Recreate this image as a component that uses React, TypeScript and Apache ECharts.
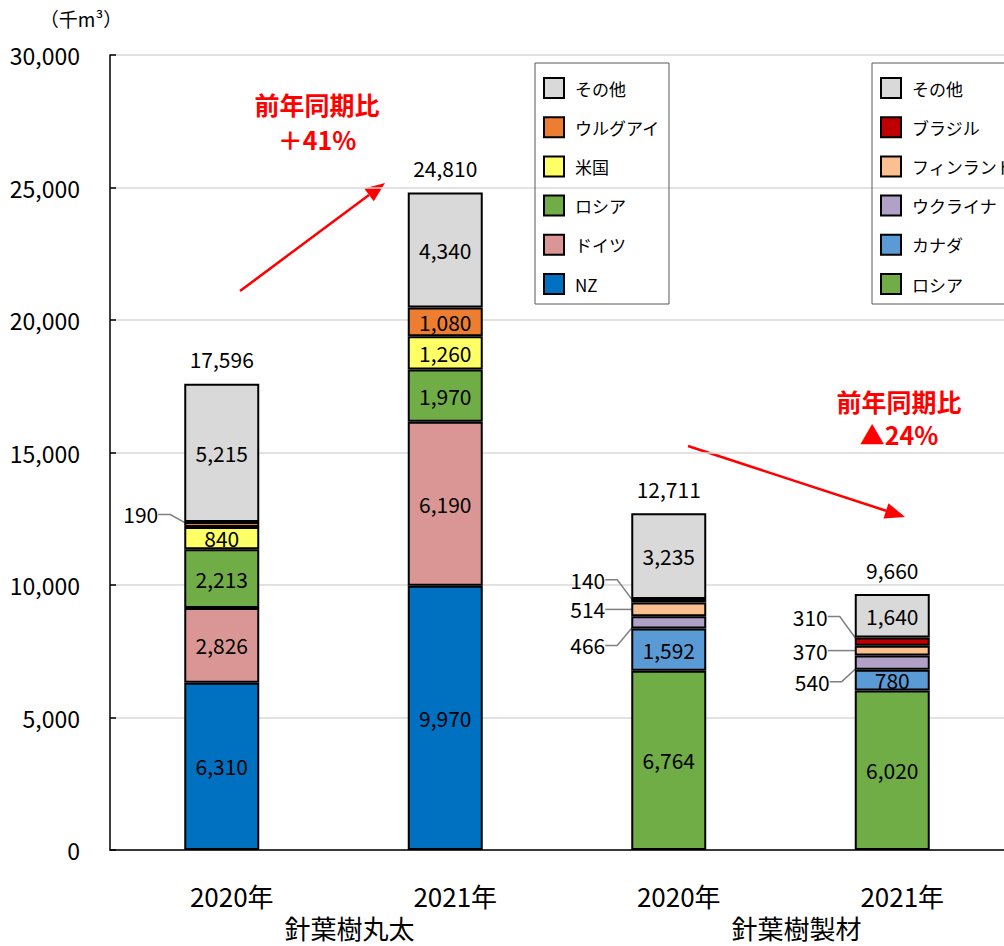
import React, { useEffect, useRef } from "react";
import * as echarts from "echarts";

const FONT = "'Noto Sans CJK JP', 'Noto Sans', sans-serif";

// Categories / labels
const categories = ["2020年", "2021年", "2020年", "2021年"];
const groupLabels = ["針葉樹丸太", "針葉樹製材"];
const legendLogs = ["その他", "ウルグアイ", "米国", "ロシア", "ドイツ", "NZ"];
const legendLumber = ["その他", "ブラジル", "フィンランド", "ウクライナ", "カナダ", "ロシア"];

// Series values (千m3)
const nz = [6310, 9970, null, null];
const germany = [2826, 6190, null, null];
const russia = [2213, 1970, 6764, 6020];
const usa = [840, 1260, null, null];
const uruguay = [190, 1080, null, null];
const canada = [null, null, 1592, 780];
const ukraine = [null, null, 466, 540];
const finland = [null, null, 514, 370];
const brazil = [null, null, 140, 310];
const others = [5215, 4340, 3235, 1640];
const totals = [17596, 24810, 12711, 9660];

const seriesDefs = [
  { name: "NZ", data: nz, color: "#0070C0" },
  { name: "ドイツ", data: germany, color: "#DA9694" },
  { name: "ロシア", data: russia, color: "#70AD47" },
  { name: "米国", data: usa, color: "#FFFF66" },
  { name: "ウルグアイ", data: uruguay, color: "#ED7D31" },
  { name: "カナダ", data: canada, color: "#5B9BD5" },
  { name: "ウクライナ", data: ukraine, color: "#B1A0C7" },
  { name: "フィンランド", data: finland, color: "#FAC090" },
  { name: "ブラジル", data: brazil, color: "#C00000" },
  { name: "その他", data: others, color: "#D9D9D9" },
];

// label offsets for small segments whose labels sit outside (left) with leader lines
const outsideOffsets: Record<string, [number, number]> = {
  "ウルグアイ-0": [-15, -10],
  "ブラジル-2": [-15, -21],
  "フィンランド-2": [-15, 0],
  "ウクライナ-2": [-15, 23],
  "ブラジル-3": [-16, -25],
  "フィンランド-3": [-16, 0],
  "ウクライナ-3": [-14, 19],
};

const fmt = (v: number) => Number(v).toLocaleString("en-US");

function arrow(x1: number, y1: number, x2: number, y2: number, color: string) {
  const ang = Math.atan2(y2 - y1, x2 - x1);
  const hl = 20;
  const hw = 8;
  const bx = x2 - hl * Math.cos(ang);
  const by = y2 - hl * Math.sin(ang);
  const nx = -Math.sin(ang);
  const ny = Math.cos(ang);
  return [
    { type: "line", shape: { x1, y1, x2: bx, y2: by }, style: { stroke: color, lineWidth: 2.5 } },
    {
      type: "polygon",
      shape: { points: [[x2, y2], [bx + nx * hw, by + ny * hw], [bx - nx * hw, by - ny * hw]] },
      style: { fill: color },
    },
  ];
}

function redText(x: number, y: number, text: string) {
  return {
    type: "text",
    x,
    y,
    style: {
      text,
      fontSize: 25,
      fontWeight: "bold",
      fill: "#FF0000",
      fontFamily: FONT,
      textAlign: "center",
      textVerticalAlign: "middle",
    },
  };
}

export default function App() {
  const ref = useRef<HTMLDivElement>(null);
  useEffect(() => {
    if (!ref.current) return;
    const chart = echarts.init(ref.current, null, { renderer: "svg" });

    const series: any[] = seriesDefs.map((s) => ({
      name: s.name,
      type: "bar",
      stack: "total",
      barWidth: 75,
      itemStyle: { color: s.color, borderColor: "#000", borderWidth: 2 },
      label: {
        show: true,
        position: "inside",
        color: "#000",
        fontSize: 21,
        fontFamily: FONT,
        formatter: (p: any) => fmt(p.value),
      },
      labelLayout: (params: any) => {
        const o = outsideOffsets[`${s.name}-${params.dataIndex}`];
        return o ? { dx: o[0], dy: o[1] } : {};
      },
      data: s.data.map((v, i) => {
        if (v == null) return "-";
        const key = `${s.name}-${i}`;
        if (outsideOffsets[key]) {
          return {
            value: v,
            label: { position: "left", distance: 5, padding: [0, 6, 0, 0] },
            labelLine: { show: true, length2: 12, lineStyle: { color: "#7F7F7F", width: 1.5 } },
          };
        }
        return v;
      }),
    }));

    series.push({
      name: "合計",
      type: "bar",
      stack: "total",
      barWidth: 75,
      silent: true,
      itemStyle: { color: "rgba(0,0,0,0)", borderWidth: 0 },
      label: {
        show: true,
        position: "top",
        distance: 14,
        color: "#000",
        fontSize: 21,
        fontFamily: FONT,
        formatter: (p: any) => fmt(totals[p.dataIndex]),
      },
      data: totals.map(() => 0),
    });

    const legendCommon = {
      orient: "vertical",
      top: 63,
      itemWidth: 20,
      itemHeight: 20,
      itemGap: 17.2,
      icon: "rect",
      borderColor: "#595959",
      borderWidth: 1,
      selectedMode: false,
      itemStyle: { borderColor: "#000", borderWidth: 2 },
      textStyle: { fontSize: 17, color: "#000", fontFamily: FONT, padding: [0, 0, 0, 6] },
    };

    const option: any = {
      animation: false,
      textStyle: { fontFamily: FONT },
      grid: { left: 110, right: -2, top: 55, bottom: 96, containLabel: false },
      legend: [
        { ...legendCommon, data: legendLogs, left: 535, padding: [14, 9, 9, 8] },
        { ...legendCommon, data: legendLumber, left: 872, padding: [14, 40, 9, 8] },
      ],
      xAxis: [
        {
          type: "category",
          data: categories,
          position: "bottom",
          axisLine: { lineStyle: { color: "#000", width: 1.5 } },
          axisTick: { show: false },
          axisLabel: {
            fontSize: 26,
            color: "#000",
            margin: 32,
            interval: 0,
            padding: [0, 0, 0, 20],
            fontFamily: FONT,
          },
        },
        {
          type: "category",
          data: groupLabels,
          position: "bottom",
          axisLine: { show: false },
          axisTick: { show: false },
          splitLine: { show: false },
          axisLabel: {
            fontSize: 26,
            color: "#000",
            margin: 64,
            interval: 0,
            padding: [0, 0, 0, 32],
            fontFamily: FONT,
          },
        },
      ],
      yAxis: {
        type: "value",
        min: 0,
        max: 30000,
        interval: 5000,
        axisLine: { show: true, lineStyle: { color: "#000", width: 1.5 } },
        axisTick: { show: true, inside: true, length: 6, lineStyle: { color: "#000", width: 1.5 } },
        splitLine: { lineStyle: { color: "#D9D9D9", width: 1.5 } },
        axisLabel: { fontSize: 23, color: "#000", margin: 30, fontFamily: FONT, formatter: (v: number) => fmt(v) },
      },
      series,
      graphic: [
        {
          type: "text",
          x: 81,
          y: 18,
          style: {
            text: "（千m³）",
            fontSize: 19,
            fill: "#000",
            fontFamily: FONT,
            textAlign: "center",
            textVerticalAlign: "middle",
          },
        },
        redText(317, 104, "前年同期比"),
        redText(317, 139, "＋41%"),
        redText(899, 401, "前年同期比"),
        redText(899, 434, "▲24%"),
        ...arrow(240, 291, 385, 183, "#FF0000"),
        ...arrow(688, 446, 905, 517, "#FF0000"),
      ],
    };

    chart.setOption(option);
    return () => chart.dispose();
  }, []);

  return (
    <div
      ref={ref}
      style={{ position: "absolute", left: 0, top: 0, width: 1004, height: 946, background: "#fff" }}
    />
  );
}
